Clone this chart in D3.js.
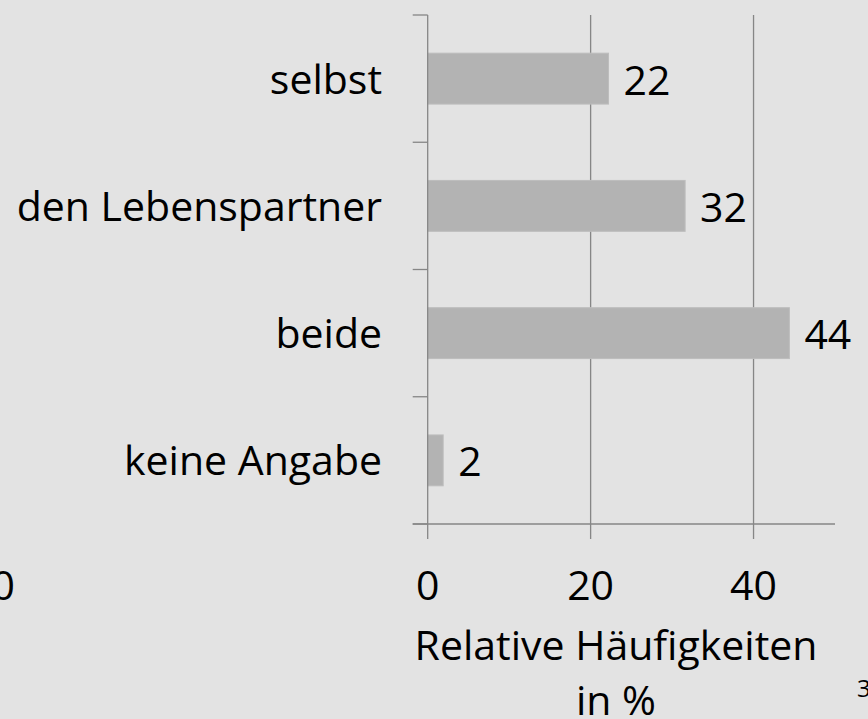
<!DOCTYPE html>
<html>
<head>
<meta charset="utf-8">
<script src="https://cdn.jsdelivr.net/npm/d3@7"></script>
<style>
  html, body { margin: 0; padding: 0; background: #e3e3e3; }
  svg { display: block; }
  text { font-family: "Open Sans", "Noto Sans", sans-serif; fill: #000; }
</style>
</head>
<body>
<svg id="chart" width="868" height="719"></svg>
<script>
const categories = ["selbst", "den Lebenspartner", "beide", "keine Angabe"];
const values = [22.2, 31.6, 44.4, 1.9];
const xTicks = [0, 20, 40];
const xTitleLines = ["Relative Häufigkeiten", "in %"];
const strayLeft = "0";
const pageNumber = "3";

(function () {
const svg = d3.select("#chart");
const W = 868, H = 719;
svg.append("rect").attr("width", W).attr("height", H).attr("fill", "#e3e3e3");

const pLeft = 427.7, pRight = 835, pTop = 15, pBottom = 524;
const x = d3.scaleLinear().domain([0, 50]).range([pLeft, pRight]);
const y = d3.scaleBand().domain(categories).range([pTop, pBottom])
  .paddingInner(0.6).paddingOuter(0.3);

const lineColor = "#868686";
const tickLen = 15;
const fs = 41;

// vertical gridlines (non-zero ticks)
svg.append("g").selectAll("line").data(xTicks.filter(d => d !== 0)).join("line")
  .attr("x1", d => x(d)).attr("x2", d => x(d))
  .attr("y1", pTop).attr("y2", pBottom + tickLen)
  .attr("stroke", lineColor).attr("stroke-width", 1.3);

// bars
svg.append("g").selectAll("rect").data(categories).join("rect")
  .attr("x", x(0))
  .attr("y", d => y(d))
  .attr("width", (d, i) => x(values[i]) - x(0))
  .attr("height", y.bandwidth())
  .attr("fill", "#b3b3b3")
  .attr("stroke", "#bdbdbd").attr("stroke-width", 1);

// y axis line + boundary ticks
const pad = (y.step() - y.bandwidth()) / 2;
const bounds = categories.map(c => y(c) - pad).concat([y(categories[categories.length - 1]) + y.bandwidth() + pad]);
const yAxisG = svg.append("g");
yAxisG.append("line")
  .attr("x1", x(0)).attr("x2", x(0)).attr("y1", pTop).attr("y2", pBottom + tickLen)
  .attr("stroke", lineColor).attr("stroke-width", 1.3);
yAxisG.selectAll("line.t").data(bounds).join("line").attr("class", "t")
  .attr("x1", x(0) - tickLen).attr("x2", x(0))
  .attr("y1", d => d).attr("y2", d => d)
  .attr("stroke", lineColor).attr("stroke-width", 1.3);

// x axis line
svg.append("line")
  .attr("x1", x(0) - tickLen).attr("x2", x(50))
  .attr("y1", pBottom).attr("y2", pBottom)
  .attr("stroke", lineColor).attr("stroke-width", 1.3);

// x tick labels
svg.append("g").selectAll("text").data(xTicks).join("text")
  .attr("x", d => x(d)).attr("y", 600)
  .attr("text-anchor", "middle")
  .style("font-size", fs + "px")
  .text(d => d3.format("d")(d));

// category labels
svg.append("g").selectAll("text").data(categories).join("text")
  .attr("x", 382)
  .attr("y", d => y(d) + y.bandwidth() / 2 + 15)
  .attr("text-anchor", "end")
  .style("font-size", fs + "px")
  .text(d => d);

// data labels
svg.append("g").selectAll("text").data(categories).join("text")
  .attr("x", (d, i) => x(values[i]) + 15)
  .attr("y", d => y(d) + y.bandwidth() / 2 + 16)
  .style("font-size", fs + "px")
  .text((d, i) => d3.format(".0f")(values[i]));

// axis title
svg.append("g").selectAll("text").data(xTitleLines).join("text")
  .attr("x", 616).attr("y", (d, i) => 660 + i * 55)
  .attr("text-anchor", "middle")
  .style("font-size", fs + "px")
  .text(d => d);

// stray elements from slide
svg.append("text").attr("x", 15).attr("y", 600).attr("text-anchor", "end")
  .style("font-size", fs + "px").text(strayLeft);
svg.append("text").attr("x", 857).attr("y", 697)
  .style("font-size", "24px").text(pageNumber);
})();
</script>
</body>
</html>
